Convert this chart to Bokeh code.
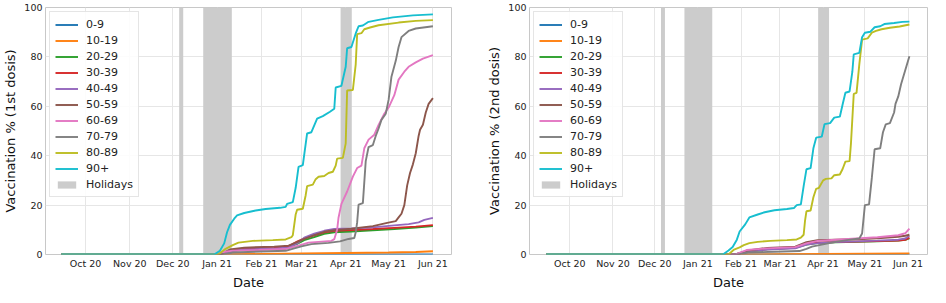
import pandas as pd
from bokeh.plotting import figure
from bokeh.models import (Range1d, Legend, LegendItem, DatetimeTickFormatter,
                          FixedTicker)
from bokeh.layouts import row
from bokeh.embed import file_html
from bokeh.resources import INLINE

FONT = "DejaVu Sans"

age_groups = ["0-9", "10-19", "20-29", "30-39", "40-49",
              "50-59", "60-69", "70-79", "80-89", "90+"]
colors = ["#1f77b4", "#ff7f0e", "#2ca02c", "#d62728", "#9467bd",
          "#8c564b", "#e377c2", "#7f7f7f", "#bcbd22", "#17becf"]

holiday_start = ["2020-12-05 12:00", "2020-12-22 08:00", "2021-03-28 10:00"]
holiday_end = ["2020-12-08 08:00", "2021-01-11 08:00", "2021-04-05 06:00"]

month_ticks = ["2020-10-01", "2020-11-01", "2020-12-01", "2021-01-01",
               "2021-02-01", "2021-03-01", "2021-04-01", "2021-05-01",
               "2021-06-01"]
y_ticks = [0, 20, 40, 60, 80, 100]

# ---------------- 1st dose ----------------
d1_0_9_dates = ["2020-09-14", "2021-06-01"]
d1_0_9_vals = [0, 0]

d1_10_19_dates = ["2020-09-14", "2021-01-03", "2021-02-01", "2021-03-01",
                  "2021-04-01", "2021-05-01", "2021-05-20", "2021-06-01"]
d1_10_19_vals = [0, 0, 0.2, 0.4, 0.6, 0.8, 1.0, 1.3]

d1_mid_dates = ["2020-09-14", "2021-01-03", "2021-01-10", "2021-01-20",
                "2021-02-10", "2021-02-20", "2021-02-26", "2021-03-03",
                "2021-03-10", "2021-03-17", "2021-03-24", "2021-04-05",
                "2021-04-20", "2021-05-05", "2021-05-20", "2021-06-01"]
d1_20_29_vals = [0, 0, 1.4, 2.1, 2.5, 3.0, 4.3, 5.8, 7.0, 8.4, 9.0, 9.3,
                 9.8, 10.3, 10.9, 11.5]
d1_30_39_vals = [0, 0, 1.6, 2.3, 2.7, 3.3, 5.2, 6.5, 7.8, 9.0, 9.6, 9.9,
                 10.3, 10.8, 11.3, 11.9]

d1_40_49_dates = ["2020-09-14", "2021-01-03", "2021-01-10", "2021-01-20",
                  "2021-02-10", "2021-02-20", "2021-02-26", "2021-03-03",
                  "2021-03-10", "2021-03-17", "2021-03-24", "2021-04-05",
                  "2021-04-20", "2021-05-05", "2021-05-15", "2021-05-22",
                  "2021-05-26", "2021-06-01"]
d1_40_49_vals = [0, 0, 1.3, 2.0, 2.4, 2.9, 4.5, 6.8, 8.4, 9.6, 10.3, 10.5,
                 11.0, 11.8, 12.3, 13.0, 14.0, 14.8]

d1_50_59_dates = ["2020-09-14", "2021-01-03", "2021-01-10", "2021-01-20",
                  "2021-02-10", "2021-02-20", "2021-02-26", "2021-03-03",
                  "2021-03-10", "2021-03-17", "2021-03-24", "2021-04-05",
                  "2021-04-20", "2021-04-30", "2021-05-06", "2021-05-08",
                  "2021-05-10", "2021-05-12", "2021-05-14", "2021-05-16",
                  "2021-05-18", "2021-05-20", "2021-05-22", "2021-05-23",
                  "2021-05-25", "2021-05-27", "2021-05-29", "2021-06-01"]
d1_50_59_vals = [0, 0, 2.0, 2.8, 3.2, 3.6, 5.0, 6.3, 7.8, 9.2, 9.8, 10.4,
                 11.5, 12.8, 13.5, 15.0, 16.5, 20.0, 28.0, 33.0, 36.5, 41.0,
                 48.0, 50.5, 52.5, 57.5, 61.0, 63.3]

d1_60_69_dates = ["2020-09-14", "2020-12-31", "2021-01-03", "2021-01-12",
                  "2021-01-30", "2021-02-18", "2021-02-23", "2021-02-27",
                  "2021-03-06", "2021-03-13", "2021-03-22", "2021-03-24",
                  "2021-03-26", "2021-03-27", "2021-03-29", "2021-04-02",
                  "2021-04-06", "2021-04-09", "2021-04-12", "2021-04-14",
                  "2021-04-17", "2021-04-21", "2021-04-24", "2021-04-28",
                  "2021-05-01", "2021-05-05", "2021-05-08", "2021-05-12",
                  "2021-05-15", "2021-05-20", "2021-05-25", "2021-06-01"]
d1_60_69_vals = [0, 0, 0.8, 1.5, 1.8, 2.2, 3.0, 3.6, 4.8, 5.1, 5.5, 6.2,
                 10.0, 15.0, 20.5, 25.5, 31.5, 35.0, 36.0, 43.0, 46.5, 48.5,
                 52.5, 57.0, 59.5, 64.5, 70.8, 74.0, 76.0, 77.8, 79.3, 80.7]

d1_70_79_dates = ["2020-09-14", "2021-01-05", "2021-01-12", "2021-02-01",
                  "2021-02-18", "2021-02-24", "2021-03-01", "2021-03-08",
                  "2021-03-20", "2021-03-28", "2021-04-03", "2021-04-07",
                  "2021-04-08", "2021-04-09", "2021-04-10", "2021-04-13",
                  "2021-04-15", "2021-04-17", "2021-04-20", "2021-04-22",
                  "2021-04-24", "2021-04-26", "2021-04-29", "2021-05-01",
                  "2021-05-03", "2021-05-06", "2021-05-08", "2021-05-10",
                  "2021-05-15", "2021-05-20", "2021-06-01"]
d1_70_79_vals = [0, 0, 0.8, 1.2, 1.5, 2.5, 3.3, 4.2, 4.7, 5.3, 6.3, 6.7,
                 9.0, 13.0, 20.2, 20.8, 37.8, 43.5, 44.3, 48.0, 51.0, 54.5,
                 57.0, 62.6, 72.0, 78.4, 84.0, 88.0, 90.5, 91.5, 92.4]

d1_80_89_dates = ["2020-09-14", "2021-01-01", "2021-01-03", "2021-01-07",
                  "2021-01-12", "2021-01-16", "2021-01-26", "2021-02-09",
                  "2021-02-18", "2021-02-22", "2021-02-23", "2021-02-25",
                  "2021-02-26", "2021-03-02", "2021-03-04", "2021-03-05",
                  "2021-03-09", "2021-03-11", "2021-03-13", "2021-03-17",
                  "2021-03-20", "2021-03-23", "2021-03-25", "2021-03-26",
                  "2021-03-30", "2021-04-01", "2021-04-02", "2021-04-06",
                  "2021-04-08", "2021-04-09", "2021-04-12", "2021-04-14",
                  "2021-04-18", "2021-04-24", "2021-05-08", "2021-05-20",
                  "2021-06-01"]
d1_80_89_vals = [0, 0, 0.5, 2.3, 3.8, 4.8, 5.5, 5.8, 6.1, 7.0, 7.8, 16.2,
                 18.1, 18.5, 24.0, 27.7, 28.3, 30.5, 31.5, 31.8, 33.0, 33.5,
                 36.0, 38.8, 39.1, 45.0, 66.4, 66.6, 77.0, 89.2, 89.6, 91.2,
                 91.9, 92.8, 93.9, 94.6, 94.9]

d1_90_dates = ["2020-09-14", "2020-12-30", "2021-01-03", "2021-01-06",
               "2021-01-08", "2021-01-10", "2021-01-13", "2021-01-15",
               "2021-01-20", "2021-01-28", "2021-02-04", "2021-02-14",
               "2021-02-18", "2021-02-19", "2021-02-23", "2021-02-25",
               "2021-02-27", "2021-03-02", "2021-03-05", "2021-03-08",
               "2021-03-12", "2021-03-16", "2021-03-21", "2021-03-24",
               "2021-03-25", "2021-03-29", "2021-04-01", "2021-04-02",
               "2021-04-05", "2021-04-08", "2021-04-10", "2021-04-13",
               "2021-04-17", "2021-04-24", "2021-05-04", "2021-05-18",
               "2021-06-01"]
d1_90_vals = [0, 0, 1.5, 4.5, 9.0, 12.0, 14.5, 15.8, 16.8, 17.8, 18.4, 18.9,
              19.3, 20.5, 21.2, 27.0, 35.5, 36.2, 49.0, 49.5, 55.0, 56.0,
              57.8, 59.0, 67.6, 68.3, 76.0, 83.5, 84.0, 89.5, 92.4, 92.7,
              94.2, 95.0, 96.0, 96.8, 97.2]

# ---------------- 2nd dose ----------------
d2_0_9_dates = ["2020-09-14", "2021-06-02"]
d2_0_9_vals = [0, 0]

d2_10_19_dates = ["2020-09-14", "2021-01-28", "2021-03-01", "2021-04-01",
                  "2021-06-02"]
d2_10_19_vals = [0, 0, 0.1, 0.2, 0.4]

d2_mid_dates = ["2020-09-14", "2021-01-28", "2021-02-05", "2021-02-20",
                "2021-03-12", "2021-03-20", "2021-03-28", "2021-04-10",
                "2021-04-25", "2021-05-10", "2021-05-25", "2021-05-30",
                "2021-06-02"]
d2_20_29_vals = [0, 0, 1.2, 2.1, 2.7, 4.0, 4.6, 4.9, 5.1, 5.3, 5.6, 5.9, 6.5]
d2_30_39_vals = [0, 0, 1.3, 2.2, 2.8, 4.2, 4.8, 5.0, 5.2, 5.4, 5.6, 5.9, 6.8]
d2_40_49_vals = [0, 0, 1.2, 2.0, 2.5, 4.0, 4.6, 5.0, 5.3, 5.6, 6.0, 6.5, 7.6]
d2_50_59_vals = [0, 0, 1.5, 2.7, 3.2, 5.0, 5.8, 6.0, 6.2, 6.6, 7.2, 7.6, 8.0]
d2_60_69_vals = [0, 0, 1.8, 2.5, 3.0, 4.5, 5.5, 6.0, 6.5, 7.0, 7.8, 8.6, 10.5]

d2_70_79_dates = ["2020-09-14", "2021-01-30", "2021-02-06", "2021-02-25",
                  "2021-03-15", "2021-03-20", "2021-03-24", "2021-03-31",
                  "2021-04-09", "2021-04-18", "2021-04-27", "2021-04-29",
                  "2021-05-01", "2021-05-04", "2021-05-06", "2021-05-08",
                  "2021-05-12", "2021-05-14", "2021-05-16", "2021-05-19",
                  "2021-05-22", "2021-05-23", "2021-05-25", "2021-05-27",
                  "2021-05-30", "2021-06-02"]
d2_70_79_vals = [0, 0, 0.8, 1.1, 1.4, 2.3, 3.2, 4.0, 5.0, 5.8, 6.5, 8.5,
                 20.0, 20.3, 31.0, 42.6, 43.0, 49.5, 52.7, 53.2, 57.5, 61.0,
                 64.0, 68.9, 74.6, 80.3]

d2_80_89_dates = ["2020-09-14", "2021-01-23", "2021-01-25", "2021-01-27",
                  "2021-01-31", "2021-02-03", "2021-02-07", "2021-02-13",
                  "2021-02-22", "2021-03-06", "2021-03-13", "2021-03-16",
                  "2021-03-18", "2021-03-19", "2021-03-20", "2021-03-23",
                  "2021-03-25", "2021-03-27", "2021-03-29", "2021-04-01",
                  "2021-04-03", "2021-04-07", "2021-04-09", "2021-04-13",
                  "2021-04-15", "2021-04-17", "2021-04-20", "2021-04-21",
                  "2021-04-23", "2021-04-25", "2021-04-27", "2021-04-29",
                  "2021-05-03", "2021-05-06", "2021-05-09", "2021-05-13",
                  "2021-05-19", "2021-05-26", "2021-06-02"]
d2_80_89_vals = [0, 0, 1.0, 2.0, 2.9, 3.8, 4.6, 5.1, 5.5, 5.8, 6.1, 6.8,
                 8.0, 13.7, 17.5, 17.8, 23.2, 26.6, 27.0, 30.0, 30.6, 30.8,
                 32.1, 32.4, 34.6, 37.6, 37.8, 45.0, 65.0, 65.4, 77.0, 87.0,
                 87.5, 89.8, 90.5, 91.2, 91.8, 92.3, 93.1]

d2_90_dates = ["2020-09-14", "2021-01-19", "2021-01-23", "2021-01-26",
               "2021-01-29", "2021-01-31", "2021-02-04", "2021-02-07",
               "2021-02-13", "2021-02-18", "2021-02-25", "2021-03-06",
               "2021-03-11", "2021-03-13", "2021-03-16", "2021-03-18",
               "2021-03-20", "2021-03-23", "2021-03-25", "2021-03-27",
               "2021-03-31", "2021-04-02", "2021-04-06", "2021-04-09",
               "2021-04-13", "2021-04-15", "2021-04-17", "2021-04-20",
               "2021-04-22", "2021-04-23", "2021-04-27", "2021-04-29",
               "2021-05-01", "2021-05-05", "2021-05-08", "2021-05-12",
               "2021-05-15", "2021-05-22", "2021-05-28", "2021-06-02"]
d2_90_vals = [0, 0, 1.6, 3.0, 6.0, 9.3, 12.2, 15.0, 16.2, 17.1, 17.9, 18.4,
              18.8, 20.0, 20.3, 27.7, 34.5, 35.0, 43.0, 47.3, 47.7, 52.8,
              53.2, 55.4, 55.8, 60.7, 65.5, 66.0, 74.0, 81.0, 81.6, 88.0,
              89.8, 90.2, 92.0, 92.4, 93.3, 93.7, 94.2, 94.3]

dose1 = [(d1_0_9_dates, d1_0_9_vals), (d1_10_19_dates, d1_10_19_vals),
         (d1_mid_dates, d1_20_29_vals), (d1_mid_dates, d1_30_39_vals),
         (d1_40_49_dates, d1_40_49_vals), (d1_50_59_dates, d1_50_59_vals),
         (d1_60_69_dates, d1_60_69_vals), (d1_70_79_dates, d1_70_79_vals),
         (d1_80_89_dates, d1_80_89_vals), (d1_90_dates, d1_90_vals)]
dose2 = [(d2_0_9_dates, d2_0_9_vals), (d2_10_19_dates, d2_10_19_vals),
         (d2_mid_dates, d2_20_29_vals), (d2_mid_dates, d2_30_39_vals),
         (d2_mid_dates, d2_40_49_vals), (d2_mid_dates, d2_50_59_vals),
         (d2_mid_dates, d2_60_69_vals), (d2_70_79_dates, d2_70_79_vals),
         (d2_80_89_dates, d2_80_89_vals), (d2_90_dates, d2_90_vals)]

tick_ms = [int(t.value // 10**6) for t in pd.to_datetime(month_ticks)]

BORDER_TOP = 7
BORDER_BOTTOM = 33
FRAME_H = 287 - BORDER_TOP - BORDER_BOTTOM


def make_panel(series, ylabel, x_start, x_end, frame_w, border_left, border_right):
    p = figure(frame_width=frame_w, frame_height=FRAME_H, x_axis_type="datetime",
               x_range=Range1d(pd.Timestamp(x_start), pd.Timestamp(x_end)),
               y_range=Range1d(0, 100),
               output_backend="svg", toolbar_location=None,
               min_border_left=border_left, min_border_right=border_right,
               min_border_top=BORDER_TOP, min_border_bottom=BORDER_BOTTOM)
    p.background_fill_color = "white"
    p.border_fill_color = "white"
    p.outline_line_color = "#c8c8c8"
    p.outline_line_width = 1

    hol = p.quad(left=pd.to_datetime(holiday_start), right=pd.to_datetime(holiday_end),
                 bottom=0, top=100, fill_color="#cccccc", line_color=None)

    items = []
    for (dates, vals), lab, col in zip(series, age_groups, colors):
        r = p.line(pd.to_datetime(dates), vals, line_color=col, line_width=1.9)
        items.append(LegendItem(label=lab, renderers=[r]))
    items.append(LegendItem(label="Holidays", renderers=[hol]))

    leg = Legend(items=items, location="top_left",
                 label_text_font=FONT, label_text_font_size="11px",
                 label_text_color="#222222",
                 glyph_width=23, glyph_height=9, label_height=14,
                 spacing=2, padding=5, margin=4, label_standoff=8,
                 border_line_color="#cccccc", border_line_width=1,
                 background_fill_color="white", background_fill_alpha=0.85)
    p.add_layout(leg)

    p.xaxis.ticker = FixedTicker(ticks=tick_ms)
    p.xaxis.formatter = DatetimeTickFormatter(months="%b %y", days="%b %y",
                                              years="%b %y", hours="%b %y")
    p.yaxis.ticker = FixedTicker(ticks=y_ticks)
    p.xaxis.axis_label = "Date"
    p.yaxis.axis_label = ylabel
    for ax in (p.xaxis, p.yaxis):
        ax.axis_line_color = None
        ax.major_tick_line_color = None
        ax.minor_tick_line_color = None
        ax.major_tick_out = 0
        ax.major_tick_in = 0
        ax.minor_tick_out = 0
        ax.major_label_text_font = FONT
        ax.major_label_text_font_size = "9.5px"
        ax.major_label_text_color = "#222222"
        ax.axis_label_text_font = FONT
        ax.axis_label_text_font_size = "13px"
        ax.axis_label_text_font_style = "normal"
        ax.axis_label_text_color = "#111111"
        ax.major_label_standoff = 3
        ax.axis_label_standoff = 3
    p.xgrid.grid_line_color = "#e6e6e6"
    p.ygrid.grid_line_color = "#e6e6e6"
    return p


p1 = make_panel(dose1, "Vaccination % (1st dosis)", "2020-09-03", "2021-06-14",
                406, 45, 33)
p2 = make_panel(dose2, "Vaccination % (2nd dosis)", "2020-09-02", "2021-06-15",
                398, 44, 4)

layout = row(p1, p2)
open("out.html", "w").write(file_html(layout, INLINE))
